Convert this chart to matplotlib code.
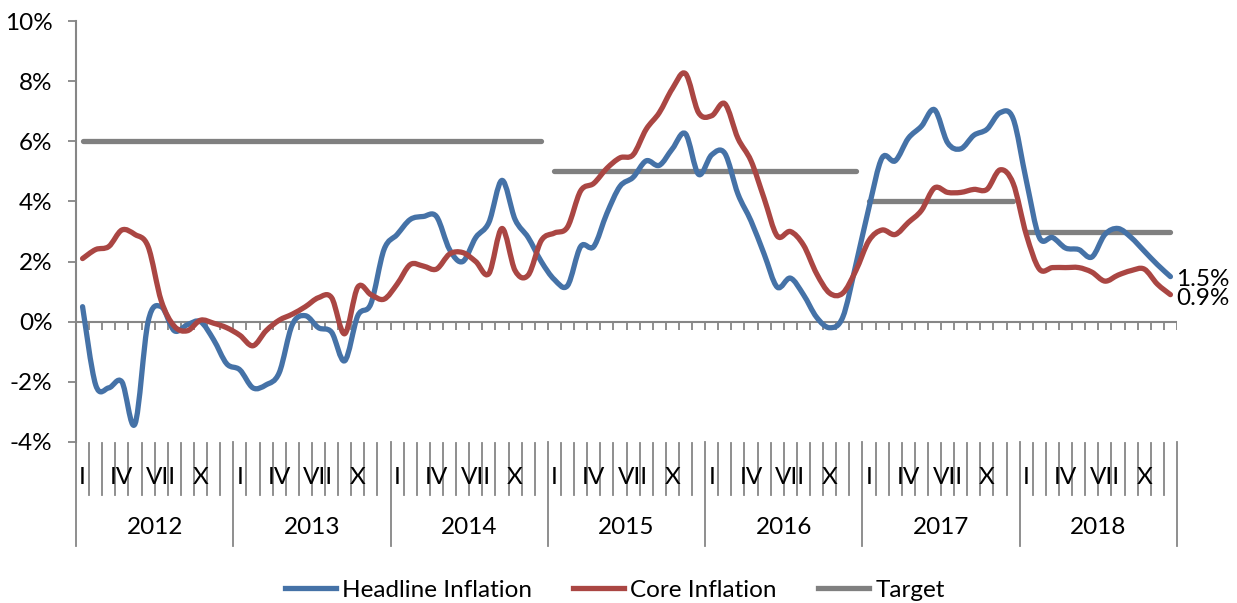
import matplotlib
matplotlib.use("Agg")
import matplotlib.pyplot as plt
import matplotlib.transforms as mtransforms
from matplotlib.path import Path
from matplotlib.patches import PathPatch
from matplotlib.lines import Line2D

plt.rcParams['font.family'] = ['Lato', 'DejaVu Sans']

# data (monthly, Jan 2012 - Dec 2018, in %)
years = ['2012', '2013', '2014', '2015', '2016', '2017', '2018']
month_labels = {0: 'I', 3: 'IV', 6: 'VII', 9: 'X'}

headline = [0.5, -2.1, -2.2, -2.0, -3.4, 0.0, 0.5, -0.3, -0.1, 0.0, -0.6, -1.4,
            -1.6, -2.2, -2.1, -1.7, -0.1, 0.2, -0.2, -0.35, -1.3, 0.2, 0.6, 2.4,
            2.9, 3.4, 3.5, 3.5, 2.4, 2.0, 2.8, 3.3, 4.7, 3.4, 2.8, 2.0,
            1.4, 1.2, 2.5, 2.5, 3.6, 4.5, 4.8, 5.35, 5.2, 5.75, 6.25, 4.9,
            5.55, 5.6, 4.25, 3.35, 2.25, 1.15, 1.45, 0.9, 0.15, -0.2, 0.15, 1.9,
            3.8, 5.45, 5.35, 6.1, 6.5, 7.05, 5.95, 5.75, 6.2, 6.4, 6.95, 6.75,
            4.7, 2.8, 2.8, 2.45, 2.4, 2.15, 2.9, 3.1, 2.8, 2.35, 1.9, 1.5]

core = [2.1, 2.4, 2.5, 3.05, 2.9, 2.5, 0.7, -0.15, -0.3, 0.05, -0.05, -0.2,
        -0.45, -0.8, -0.3, 0.05, 0.25, 0.5, 0.8, 0.8, -0.4, 1.15, 0.9, 0.75,
        1.25, 1.9, 1.85, 1.75, 2.25, 2.3, 2.0, 1.6, 3.1, 1.7, 1.55, 2.7,
        2.95, 3.15, 4.35, 4.6, 5.1, 5.45, 5.55, 6.4, 6.95, 7.75, 8.25, 6.95,
        6.85, 7.25, 6.1, 5.35, 4.1, 2.85, 3.0, 2.55, 1.6, 0.95, 0.95, 1.7,
        2.7, 3.05, 2.9, 3.3, 3.7, 4.45, 4.3, 4.3, 4.4, 4.4, 5.05, 4.6,
        2.9, 1.75, 1.8, 1.8, 1.8, 1.65, 1.35, 1.55, 1.7, 1.75, 1.25, 0.9]

# (first month, last month, target %)
target_periods = [(0, 35, 6.0), (36, 59, 5.0), (60, 71, 4.0), (72, 83, 3.0)]

BLUE = '#4572A7'
RED = '#AA4643'
GREY = '#808080'
AXIS = '#868686'
LW = 3.8
FS = 17.5


def smooth_path(x, y):
    # excel-like smoothed line (bezier through every point)
    n = len(x)
    verts = [(x[0], y[0])]
    codes = [Path.MOVETO]
    for i in range(n - 1):
        a = max(i - 1, 0)
        d = min(i + 2, n - 1)
        c1 = (x[i] + (x[i + 1] - x[a]) / 6.0, y[i] + (y[i + 1] - y[a]) / 6.0)
        c2 = (x[i + 1] - (x[d] - x[i]) / 6.0, y[i + 1] - (y[d] - y[i]) / 6.0)
        verts += [c1, c2, (x[i + 1], y[i + 1])]
        codes += [Path.CURVE4] * 3
    return Path(verts, codes)


fig = plt.figure(figsize=(12.37, 6.03), dpi=100)
ax = fig.add_axes([76 / 1237, 1 - 442 / 603, 1101 / 1237, 421 / 603])

n = len(headline)
months = list(range(n))

for start, end, val in target_periods:
    ax.plot([start, end], [val, val], color=GREY, lw=LW,
            solid_capstyle='round', zorder=2)

for series, col in [(headline, BLUE), (core, RED)]:
    patch = PathPatch(smooth_path(months, series), facecolor='none',
                      edgecolor=col, lw=LW, capstyle='round',
                      joinstyle='round', zorder=3)
    ax.add_patch(patch)

ax.set_xlim(-0.5, n - 0.5)
ax.set_ylim(-4, 10)

# y axis
ax.set_yticks(range(-4, 11, 2))
ax.set_yticklabels(['{}%'.format(v) for v in range(-4, 11, 2)], fontsize=FS)
ax.tick_params(axis='y', length=6, width=1.3, color=AXIS, pad=11)
ax.set_xticks([])
for s in ['top', 'right', 'bottom']:
    ax.spines[s].set_visible(False)
ax.spines['left'].set_color(AXIS)
ax.spines['left'].set_linewidth(1.5)

# zero line with monthly ticks
ax.axhline(0, color=AXIS, lw=1.5, zorder=1)
bounds = [i - 0.5 for i in range(n + 1)]
ax.vlines(bounds, -0.28, 0, color=AXIS, lw=1.3, zorder=1)

# multi-level category axis below the plot
trans = mtransforms.blended_transform_factory(ax.transData, ax.transAxes)
for i, b in enumerate(bounds):
    if i % 12 == 0:
        ax.plot([b, b], [0, -0.247], transform=trans, color=AXIS, lw=1.3,
                clip_on=False)
    else:
        ax.plot([b, b], [-0.003, -0.126], transform=trans, color=AXIS,
                lw=1.3, clip_on=False)

for k, yr in enumerate(years):
    for m, lab in month_labels.items():
        ax.text(12 * k + m, -0.085, lab, transform=trans, ha='center',
                va='center', fontsize=FS)
    ax.text(12 * k + 5.5, -0.204, yr, transform=trans, ha='center',
            va='center', fontsize=FS)

# end labels
ax.annotate('{}%'.format(headline[-1]), (n - 1, headline[-1]),
            xytext=(4, -2), textcoords='offset points', ha='left',
            va='center', fontsize=FS, annotation_clip=False)
ax.annotate('{}%'.format(core[-1]), (n - 1, core[-1]),
            xytext=(4, -2.5), textcoords='offset points', ha='left',
            va='center', fontsize=FS, annotation_clip=False)

handles = [Line2D([], [], color=BLUE, lw=LW),
           Line2D([], [], color=RED, lw=LW),
           Line2D([], [], color=GREY, lw=LW)]
fig.legend(handles, ['Headline Inflation', 'Core Inflation', 'Target'],
           loc='center', bbox_to_anchor=(0.497, 1 - 590 / 603), ncol=3,
           frameon=False, fontsize=FS, handlelength=2.1, handletextpad=0.25,
           columnspacing=1.7)

fig.savefig('out.png', dpi=100)
